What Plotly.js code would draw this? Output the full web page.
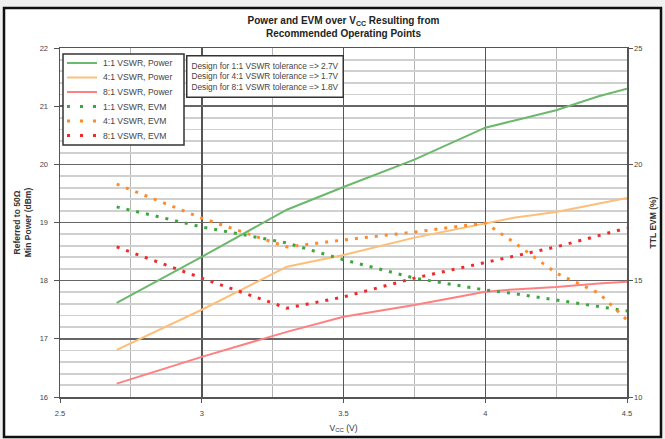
<!DOCTYPE html>
<html>
<head>
<meta charset="utf-8">
<script src="https://cdn.plot.ly/plotly-3.0.1.min.js"></script>
<style>html,body{margin:0;padding:0;background:#f0f0f0;}#chart{width:665px;height:439px;}</style>
</head>
<body>
<div id="chart"></div>
<script>
// Supply voltage (V)
var vcc = [2.7, 3.0, 3.3, 3.5, 3.75, 4.0, 4.1, 4.25, 4.4, 4.5];
// Min power referred to 50 ohm (dBm), left axis
var power_1to1 = [17.62, 18.41, 19.22, 19.61, 20.08, 20.63, 20.75, 20.93, 21.17, 21.30];
var power_4to1 = [16.81, 17.50, 18.24, 18.44, 18.74, 18.99, 19.08, 19.18, 19.33, 19.42];
var power_8to1 = [16.23, 16.69, 17.12, 17.38, 17.58, 17.81, 17.85, 17.89, 17.95, 17.98];
// TTL EVM (%), right axis
var evm_1to1 = [18.17, 17.31, 16.62, 15.90, 15.11, 14.60, 14.45, 14.17, 13.90, 13.70];
var evm_4to1 = [19.15, 17.69, 16.45, 16.75, 17.09, 17.48, 16.66, 15.33, 14.47, 13.31];
var evm_8to1 = [16.45, 15.11, 13.82, 14.30, 15.11, 15.80, 16.05, 16.45, 16.95, 17.26];

var names = ['1:1 VSWR, Power', '4:1 VSWR, Power', '8:1 VSWR, Power',
             '1:1 VSWR, EVM', '4:1 VSWR, EVM', '8:1 VSWR, EVM'];
var notes = ['Design for 1:1 VSWR tolerance => 2.7V',
             'Design for 4:1 VSWR tolerance => 1.7V',
             'Design for 8:1 VSWR tolerance => 1.8V'];

var colors = ['#6cb86c', '#ffbe78', '#ff8080', '#3ea63e', '#ff8a2a', '#ee2a2a'];
var styles = [
  {width: 2, dash: 'solid'}, {width: 2, dash: 'solid'}, {width: 2, dash: 'solid'},
  {width: 3, dash: '3px,7px'}, {width: 3, dash: '3px,7px'}, {width: 3, dash: '3px,7px'}
];
var series = [power_1to1, power_4to1, power_8to1, evm_1to1, evm_4to1, evm_8to1];

var traces = series.map(function (s, i) {
  return {x: vcc, y: s, name: names[i], mode: 'lines', yaxis: i < 3 ? 'y' : 'y2',
          line: {color: colors[i], width: styles[i].width, dash: styles[i].dash}};
});

// plot area in pixels (for legend placement)
var W = 665, H = 439, ML = 60, MR = 38, MT = 48, MB = 42;
var PW = W - ML - MR, PH = H - MT - MB;
function px(x) { return (x - ML) / PW; }
function py(y) { return 1 - (y - MT) / PH; }

var F = 'Liberation Sans, Arial, sans-serif';
var shapes = [
  {type: 'rect', xref: 'paper', yref: 'paper', x0: px(4), x1: px(661), y0: py(437), y1: py(8),
   line: {color: '#111', width: 2.5}, fillcolor: '#ffffff', layer: 'below'},
  {type: 'rect', xref: 'paper', yref: 'paper', x0: px(63), x1: px(184), y0: py(145), y1: py(54),
   line: {color: '#333', width: 1.5}, fillcolor: '#ffffff', layer: 'above'}
];
var annotations = [
  {xref: 'paper', yref: 'paper', x: px(186), y: py(55), xanchor: 'left', yanchor: 'top',
   text: notes.join('<br>'), align: 'left', showarrow: false, bgcolor: '#ffffff',
   bordercolor: '#333', borderwidth: 1.5, borderpad: 4, font: {size: 8.3, color: '#444'}}
];
names.forEach(function (n, i) {
  var yc = 63 + i * 14.5;
  shapes.push({type: 'line', xref: 'paper', yref: 'paper', x0: px(67), x1: px(97), y0: py(yc), y1: py(yc),
               line: {color: colors[i], width: styles[i].width, dash: i < 3 ? 'solid' : '3px,10px'}, layer: 'above'});
  annotations.push({xref: 'paper', yref: 'paper', x: px(101), y: py(yc), xanchor: 'left', yanchor: 'middle',
                    text: n, showarrow: false, font: {size: 8.6, color: '#444'}});
});

var layout = {
  width: W, height: H,
  margin: {l: ML, r: MR, t: MT, b: MB},
  paper_bgcolor: '#f0f0f0',
  plot_bgcolor: '#ffffff',
  font: {family: F, size: 8, color: '#333'},
  showlegend: false,
  title: {text: '<b>Power and EVM over V<sub>CC</sub> Resulting from<br>Recommended Operating Points</b>',
          font: {size: 10, color: '#222'}, x: 0.5, xref: 'paper', y: 0.945, yanchor: 'top'},
  xaxis: {range: [2.5, 4.5], dtick: 0.5, tickformat: '.1~f', showgrid: true, gridcolor: '#555', gridwidth: 1.5,
          minor: {dtick: 0.25, showgrid: true, gridcolor: '#b5b5b5', gridwidth: 1},
          showline: true, linecolor: '#555', linewidth: 1.5, mirror: true, ticks: 'outside', ticklen: 4,
          tickcolor: '#555', zeroline: false, tickfont: {size: 7.5, color: '#444'}, ticklabelstandoff: 4,
          title: {text: 'V<sub>CC</sub> (V)', font: {size: 8.5, color: '#333'}, standoff: 8}},
  yaxis: {range: [16, 22], dtick: 1, showgrid: true, gridcolor: '#666', gridwidth: 1.5,
          minor: {dtick: 0.2, showgrid: true, gridcolor: '#d0d0d0', gridwidth: 1.8},
          showline: true, linecolor: '#555', linewidth: 1.5, mirror: true, ticks: 'outside', ticklen: 5,
          tickcolor: '#555', zeroline: false, tickfont: {size: 7.5, color: '#444'}, ticklabelstandoff: 4,
          title: {text: '<b>Referred to 50Ω<br>Min Power (dBm)</b>', font: {size: 8.5, color: '#333'}, standoff: 6}},
  yaxis2: {range: [10, 25], dtick: 5, overlaying: 'y', side: 'right', showgrid: false, zeroline: false,
           showline: true, linecolor: '#555', linewidth: 1.5, ticks: 'outside', ticklen: 4, tickcolor: '#555',
           tickfont: {size: 7.5, color: '#444'},
           title: {text: '<b>TTL EVM (%)</b>', font: {size: 8.5, color: '#333'}, standoff: 8}},
  annotations: annotations,
  shapes: shapes
};

Plotly.newPlot('chart', traces, layout, {displayModeBar: false, staticPlot: true});
</script>
</body>
</html>
